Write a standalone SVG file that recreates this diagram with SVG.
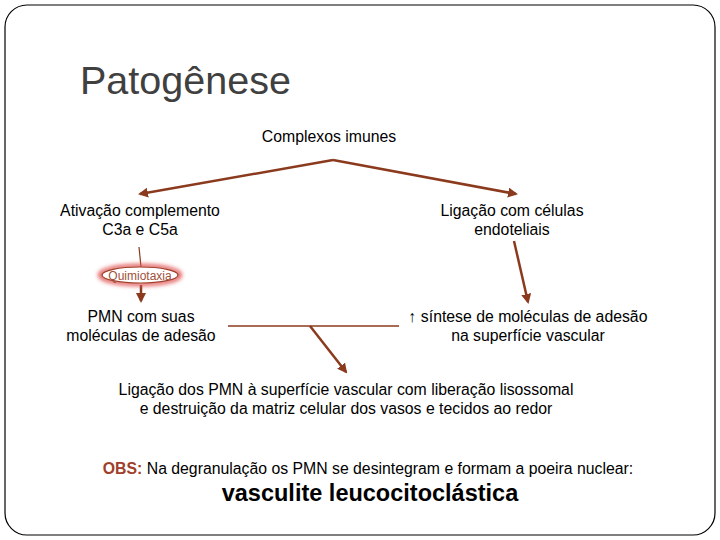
<svg xmlns="http://www.w3.org/2000/svg" width="720" height="540" viewBox="0 0 720 540">
<defs>
<style>
.t{font-family:"Liberation Sans",Arial,sans-serif;font-size:15.8px;fill:#000;text-anchor:middle}
.c{stroke:#8B3A1E;stroke-width:2.5;fill:none}
</style>
<marker id="a" viewBox="0 0 10 10" refX="8" refY="5" markerWidth="4" markerHeight="4" orient="auto"><path d="M0,0L10,5L0,10z" fill="#8B3A1E"/></marker>
<filter id="g" x="-30%" y="-60%" width="160%" height="220%"><feGaussianBlur stdDeviation="2"/></filter>
</defs>
<rect width="720" height="540" fill="#fff"/>
<rect x="5" y="5" width="710" height="530" rx="22" fill="#fff" stroke="#000" stroke-width="1.2"/>
<text x="80" y="94" style="font-family:'Liberation Sans',Arial,sans-serif;font-size:39.5px;fill:#404040">Patogênese</text>
<g id="connectors">
<path class="c" d="M333,160 L140,194" marker-end="url(#a)"/>
<path class="c" d="M333,160 L516,194" marker-end="url(#a)"/>
<path d="M139,247 L141,267" stroke="#8B3A1E" stroke-width="1.2" fill="none"/>
<path class="c" d="M141,285 L141,301" marker-end="url(#a)"/>
<path class="c" d="M514,241 L528,302" marker-end="url(#a)"/>
<path d="M228,326 L399,326" stroke="#8B3A1E" stroke-width="1.5"/>
<path class="c" d="M310,326 L346,372" marker-end="url(#a)"/>
</g>
<g id="n0"><text class="t" x="329" y="142">Complexos imunes</text></g>
<g id="n1"><text class="t" x="140" y="216">Ativação complemento</text><text class="t" x="140" y="235">C3a e C5a</text></g>
<g id="n2"><text class="t" x="512" y="216">Ligação com células</text><text class="t" x="512" y="235">endoteliais</text></g>
<g id="n3"><ellipse cx="140" cy="275" rx="40" ry="9" fill="none" stroke="#E05050" stroke-width="4" filter="url(#g)"/><ellipse cx="140" cy="275" rx="38" ry="8" fill="#fff" stroke="#A0402A" stroke-width="1.2"/><text x="140" y="279.5" style="font-family:'Liberation Sans',Arial,sans-serif;font-size:12px;fill:#A0503A;text-anchor:middle">Quimiotaxia</text></g>
<g id="n4"><text class="t" x="141" y="322">PMN com suas</text><text class="t" x="141" y="341">moléculas de adesão</text></g>
<g id="n5"><text class="t" x="528" y="322">↑ síntese de moléculas de adesão</text><text class="t" x="528" y="341">na superfície vascular</text></g>
<g id="n6"><text class="t" x="346" y="395">Ligação dos PMN à superfície vascular com liberação lisossomal</text><text class="t" x="346" y="414">e destruição da matriz celular dos vasos e tecidos ao redor</text></g>
<g id="n7"><text class="t" x="368" y="474"><tspan fill="#A0402A" font-weight="bold">OBS:</tspan> Na degranulação os PMN se desintegram e formam a poeira nuclear:</text>
<text x="370" y="501" style="font-family:'Liberation Sans',Arial,sans-serif;font-size:23.5px;font-weight:bold;text-anchor:middle">vasculite leucocitoclástica</text></g>
</svg>
